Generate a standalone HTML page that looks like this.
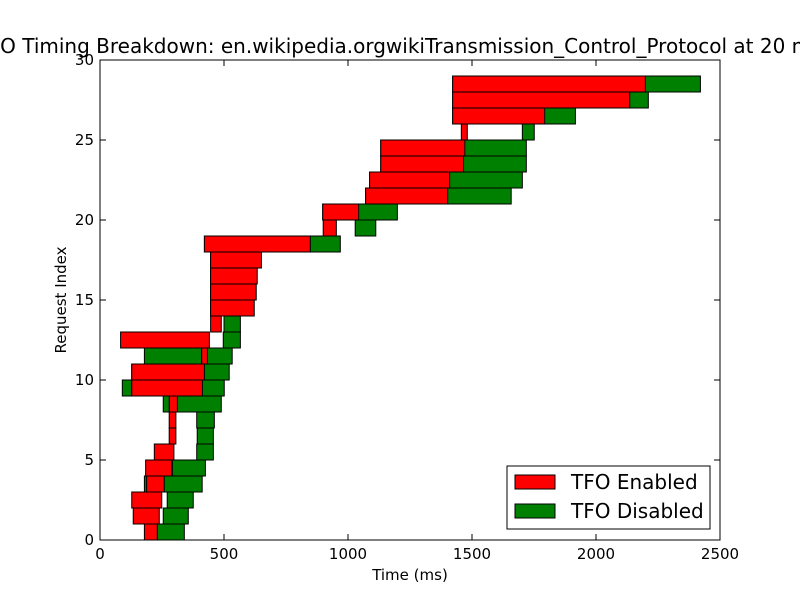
<!DOCTYPE html>
<html><head><meta charset="utf-8"><style>body{margin:0;background:#fff}svg{display:block}text{font-family:"DejaVu Sans","Liberation Sans",sans-serif}</style></head>
<body>
<svg id="chart" width="800" height="600" xmlns="http://www.w3.org/2000/svg">
<rect width="800" height="600" fill="#fff"/>
<text x="399" y="53" font-size="20" text-anchor="middle">TFO Timing Breakdown: en.wikipedia.orgwikiTransmission_Control_Protocol at 20 ms</text>
<g id="bars"></g>
<rect x="100" y="60" width="620" height="480" fill="none" stroke="#000" stroke-width="1"/>
<g id="ticks"></g>
<text x="410" y="580" font-size="15" text-anchor="middle">Time (ms)</text>
<text transform="translate(66,300) rotate(-90)" font-size="15" text-anchor="middle">Request Index</text>
<g>
<rect x="507" y="466" width="203" height="63" fill="#fff" stroke="#000"/>
<g><rect x="515" y="475" width="40" height="14" fill="#ff0000" stroke="#000"/><text x="571" y="489" font-size="20">TFO Enabled</text></g>
<g><rect x="515" y="504" width="40" height="14" fill="#008000" stroke="#000"/><text x="571" y="518" font-size="20">TFO Disabled</text></g>
</g>
</svg>
<script>
const redStart=[179,134,128,188,184,219,279,279,279,128,128,410,83,446,446,446,446,446,421,900,898,1071,1087,1132,1132,1457,1422,1422,1422];
const redEnd=[231,239,249,259,289,298,306,306,312,413,421,433,441,489,622,630,634,651,848,953,1043,1402,1410,1466,1471,1481,1793,2136,2199];
const greenStart=[231,255,271,179,292,390,392,390,255,90,128,179,497,500,446,446,446,446,421,1029,898,1071,1087,1132,1132,1703,1422,1422,1422];
const greenEnd=[340,356,376,412,425,457,457,461,489,501,521,533,566,566,600,600,600,600,969,1112,1199,1658,1703,1719,1719,1751,1917,2211,2421];
const xTicks=[0,500,1000,1500,2000,2500];
const yTicks=[0,5,10,15,20,25,30];
const NS="http://www.w3.org/2000/svg";
const X=v=>100+v*620/2500, Y=v=>540-v*480/30;
const bars=document.getElementById('bars');
function bar(s,e,i,color,name){
  const r=document.createElementNS(NS,'rect');
  r.setAttribute('x',X(s));r.setAttribute('y',Y(i+1));
  r.setAttribute('width',Math.max(0,X(e)-X(s)));r.setAttribute('height',Y(i)-Y(i+1));
  r.setAttribute('fill',color);r.setAttribute('stroke','#000');r.setAttribute('stroke-width','1');
  
  
  bars.appendChild(r);
}
for(let i=0;i<greenStart.length;i++)bar(greenStart[i],greenEnd[i],i,'#008000','bar-disabled-'+i);
for(let i=0;i<redStart.length;i++)bar(redStart[i],redEnd[i],i,'#ff0000','bar-enabled-'+i);
const tk=document.getElementById('ticks');
function line(x1,y1,x2,y2){const l=document.createElementNS(NS,'line');l.setAttribute('x1',x1);l.setAttribute('y1',y1);l.setAttribute('x2',x2);l.setAttribute('y2',y2);l.setAttribute('stroke','#000');


tk.appendChild(l);}
function txt(x,y,s,a,name){const t=document.createElementNS(NS,'text');t.setAttribute('x',x);t.setAttribute('y',y);t.setAttribute('font-size','15');t.setAttribute('text-anchor',a);t.textContent=s;


tk.appendChild(t);}
xTicks.forEach(v=>{const x=X(v);line(x,540,x,534);line(x,60,x,66);txt(x,559,String(v),'middle','x-tick-label');});
yTicks.forEach(v=>{const y=Y(v);line(100,y,106,y);line(720,y,714,y);txt(94,y+5,String(v),'end','y-tick-label');});
</script>
</body></html>
